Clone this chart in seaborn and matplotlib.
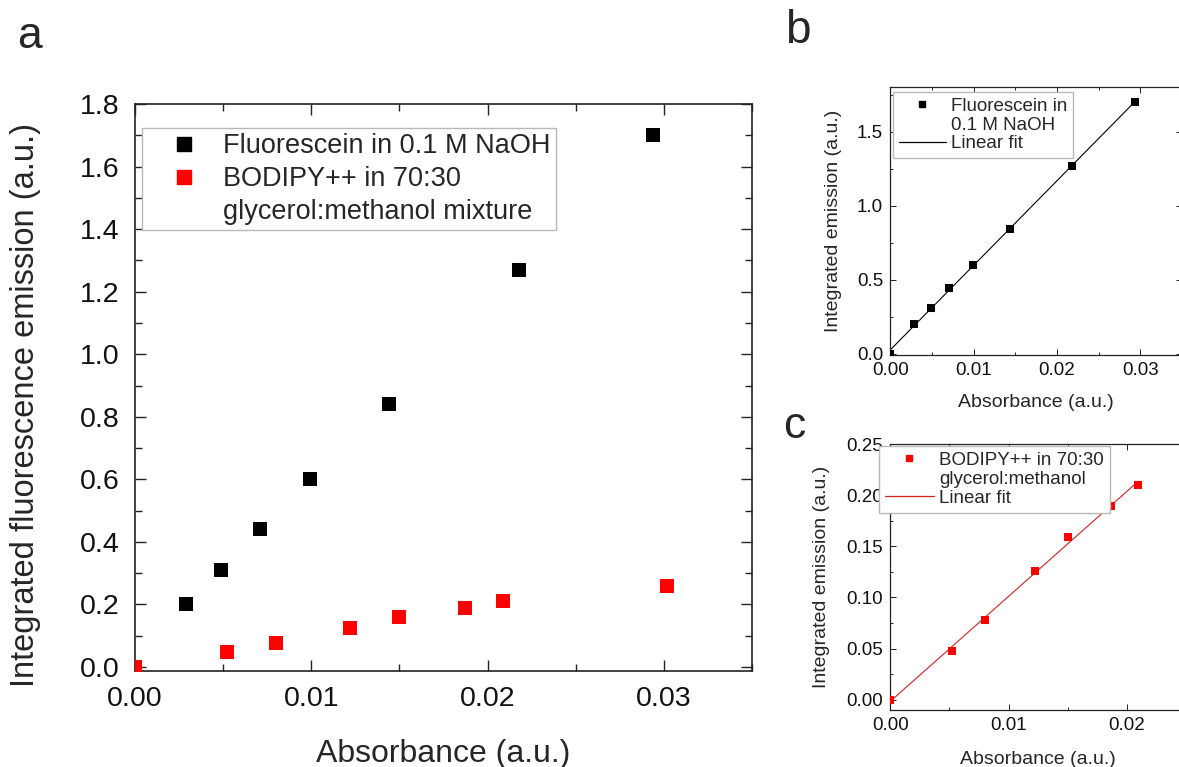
import numpy as np
import seaborn as sns
import matplotlib.pyplot as plt
from matplotlib.lines import Line2D
from matplotlib.ticker import MultipleLocator

# absorbance / integrated emission
fluor_abs = [0.0, 0.0029, 0.0049, 0.0071, 0.0099, 0.0144, 0.0218, 0.0294]
fluor_em = [0.0, 0.20, 0.31, 0.44, 0.60, 0.84, 1.27, 1.70]
bod_abs = [0.0, 0.0052, 0.0080, 0.0122, 0.0150, 0.0187, 0.0209, 0.0302]
bod_em = [0.0, 0.048, 0.078, 0.126, 0.159, 0.189, 0.210, 0.26]
n_fit_bod = 7  # last bodipy point is not in the fit panel

fluor_label_a = ["Fluorescein in 0.1 M NaOH"]
bod_label_a = ["BODIPY++ in 70:30", "glycerol:methanol mixture"]
fluor_label_b = ["Fluorescein in", "0.1 M NaOH", "Linear fit"]
bod_label_c = ["BODIPY++ in 70:30", "glycerol:methanol", "Linear fit"]

RED = "#ff0000"
BLACK = "#000000"

sns.set_style("ticks")
plt.rcParams['font.family'] = ['Liberation Sans', 'DejaVu Sans']

fig = plt.figure(figsize=(11.79, 7.67), dpi=100)
ax_a = fig.add_axes([0.1145, 0.1252, 0.5233, 0.739])
ax_b = fig.add_axes([0.755, 0.537, 0.2475, 0.3494])
ax_c = fig.add_axes([0.755, 0.0743, 0.251, 0.3468])


def style_axes(ax, big, labelsize, pad):
    for sp in ax.spines.values():
        sp.set_linewidth(1.2 if big else 0.9)
        sp.set_color("#222222")
    ax.tick_params(which="both", direction="in", top=True, right=True,
                   colors="#222222", labelcolor="#111111")
    ax.tick_params(which="major", length=8 if big else 4, width=1.0 if big else 0.7,
                   labelsize=labelsize, pad=pad)
    ax.tick_params(which="minor", length=5 if big else 2.5, width=1.0 if big else 0.7)


def blank():
    return Line2D([], [], linestyle="none")


# panel a
sns.scatterplot(x=fluor_abs, y=fluor_em, ax=ax_a, marker="s", s=110,
                color=BLACK, linewidth=0, zorder=3)
sns.scatterplot(x=bod_abs, y=bod_em, ax=ax_a, marker="s", s=110,
                color=RED, linewidth=0, zorder=4)
ax_a.set_xlim(0, 0.035)
ax_a.set_ylim(-0.013, 1.8)
ax_a.xaxis.set_major_locator(MultipleLocator(0.01))
ax_a.xaxis.set_minor_locator(MultipleLocator(0.005))
ax_a.yaxis.set_major_locator(MultipleLocator(0.2))
ax_a.yaxis.set_minor_locator(MultipleLocator(0.1))
style_axes(ax_a, True, 20.5, 11)
ax_a.set_xlabel("Absorbance (a.u.)", fontsize=23, labelpad=19)
ax_a.set_ylabel("Integrated fluorescence emission (a.u.)", fontsize=23.5)
ax_a.yaxis.set_label_coords(-0.152, 0.47)
handles_a = [Line2D([], [], linestyle="none", marker="s", markersize=10, color=BLACK),
             Line2D([], [], linestyle="none", marker="s", markersize=10, color=RED),
             blank()]
ax_a.legend(handles_a, fluor_label_a + bod_label_a, loc="upper left",
            bbox_to_anchor=(0.011, 0.958), borderaxespad=0, fontsize=19.5,
            frameon=True, fancybox=False, framealpha=1, edgecolor="#b8b8b8",
            handlelength=2.7, handletextpad=0.1, labelspacing=0.25, borderpad=0.2)

# panel b
sns.regplot(x=np.array(fluor_abs), y=np.array(fluor_em), ax=ax_b, scatter=False,
            ci=None, color=BLACK, line_kws={"linewidth": 0.8})
sns.scatterplot(x=fluor_abs, y=fluor_em, ax=ax_b, marker="s", s=26,
                color=BLACK, linewidth=0, zorder=3)
ax_b.set_xlim(0, 0.035)
ax_b.set_ylim(-0.01, 1.8)
ax_b.xaxis.set_major_locator(MultipleLocator(0.01))
ax_b.xaxis.set_minor_locator(MultipleLocator(0.005))
ax_b.yaxis.set_major_locator(MultipleLocator(0.5))
ax_b.yaxis.set_minor_locator(MultipleLocator(0.25))
style_axes(ax_b, False, 13.5, 5)
ax_b.set_xlabel("Absorbance (a.u.)", fontsize=14, labelpad=11)
ax_b.set_ylabel("Integrated emission (a.u.)", fontsize=14, labelpad=11)
handles_b = [Line2D([], [], linestyle="none", marker="s", markersize=5, color=BLACK),
             blank(),
             Line2D([], [], color=BLACK, linewidth=0.9)]
ax_b.legend(handles_b, fluor_label_b, loc="upper left",
            bbox_to_anchor=(0.01, 0.981), borderaxespad=0, fontsize=13.5,
            frameon=True, fancybox=False, framealpha=1, edgecolor="#b8b8b8",
            handlelength=2.5, handletextpad=0.3, labelspacing=0.08, borderpad=0.3)

# panel c
fit_x = np.array(bod_abs[:n_fit_bod])
fit_y = np.array(bod_em[:n_fit_bod])
sns.regplot(x=fit_x, y=fit_y, ax=ax_c, scatter=False, ci=None, color=RED,
            line_kws={"linewidth": 0.8, "color": "#d42020"})
sns.scatterplot(x=fit_x, y=fit_y, ax=ax_c, marker="s", s=30,
                color=RED, linewidth=0, zorder=3)
ax_c.set_xlim(0, 0.025)
ax_c.set_ylim(-0.01, 0.25)
ax_c.xaxis.set_major_locator(MultipleLocator(0.01))
ax_c.xaxis.set_minor_locator(MultipleLocator(0.005))
ax_c.yaxis.set_major_locator(MultipleLocator(0.05))
ax_c.yaxis.set_minor_locator(MultipleLocator(0.025))
style_axes(ax_c, False, 13.5, 5)
ax_c.set_xlabel("Absorbance (a.u.)", fontsize=14, labelpad=12)
ax_c.set_ylabel("Integrated emission (a.u.)", fontsize=14, labelpad=12)
handles_c = [Line2D([], [], linestyle="none", marker="s", markersize=5, color=RED),
             blank(),
             Line2D([], [], color="#d42020", linewidth=0.9)]
ax_c.legend(handles_c, bod_label_c, loc="upper left",
            bbox_to_anchor=(-0.037, 0.992), borderaxespad=0, fontsize=13.5,
            frameon=True, fancybox=False, framealpha=1, edgecolor="#b8b8b8",
            handlelength=2.6, handletextpad=0.3, labelspacing=0.1, borderpad=0.3)

# panel letters
fig.text(30 / 1179, 1 - 37 / 767, "a", fontsize=32, ha="center", va="center")
fig.text(798 / 1179, 1 - 31 / 767, "b", fontsize=33, ha="center", va="center")
fig.text(794 / 1179, 1 - 427 / 767, "c", fontsize=32, ha="center", va="center")

fig.savefig("out.png", dpi=100)
